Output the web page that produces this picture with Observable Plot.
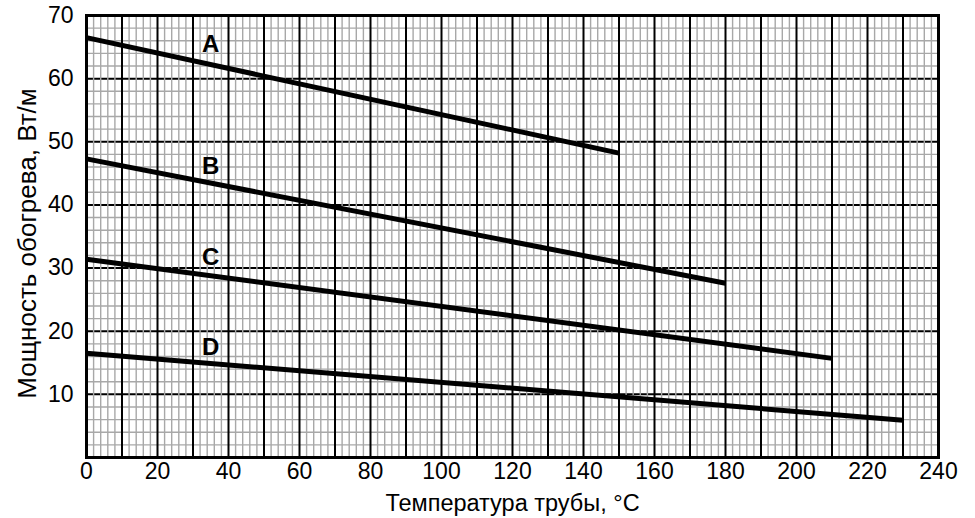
<!DOCTYPE html>
<html>
<head>
<meta charset="utf-8">
<script src="https://cdn.jsdelivr.net/npm/d3@7"></script>
<script src="https://cdn.jsdelivr.net/npm/@observablehq/plot@0.6"></script>
<style>
  html, body { margin: 0; padding: 0; background: #fff; }
  #chart svg { display: block; font-family: "Liberation Sans", Arial, sans-serif; }
</style>
</head>
<body>
<div id="chart"></div>
<script>
// Series data (temperature, °C → heating power, W/m)
const series = ["A", "B", "C", "D"];
const startTemp = [0, 0, 0, 0];
const endTemp = [150, 180, 210, 230];
const startPower = [66.5, 47.3, 31.4, 16.5];
const endPower = [48.2, 27.6, 15.7, 5.9];

// Series label positions
const labelTemp = [35, 35, 35, 35];
const labelPower = [65.4, 46.1, 31.7, 17.4];

// Axis ticks
const xTicks = [0, 20, 40, 60, 80, 100, 120, 140, 160, 180, 200, 220, 240];
const yTicks = [10, 20, 30, 40, 50, 60, 70];
const xMajorGrid = [10, 20, 30, 40, 50, 60, 70, 80, 90, 100, 110, 120, 130, 140, 150, 160, 170, 180, 190, 200, 210, 220, 230];
const yMajorGrid = [10, 20, 30, 40, 50, 60];
const xMinorGrid = d3.range(0, 241, 2).filter(v => v % 10 !== 0);
const yMinorGrid = d3.range(0, 71, 2).filter(v => v % 10 !== 0);

const xLabel = "Температура трубы, °C";
const yLabel = "Мощность обогрева, Вт/м";

const lineData = series.flatMap((s, i) => [
  {s, t: startTemp[i], p: startPower[i]},
  {s, t: endTemp[i], p: endPower[i]}
]);
const labelData = series.map((s, i) => ({s, t: labelTemp[i], p: labelPower[i]}));

const chart = Plot.plot({
  width: 975,
  height: 518,
  marginLeft: 86,
  marginRight: 37,
  marginTop: 15,
  marginBottom: 61,
  style: {fontFamily: "'Liberation Sans', Arial, sans-serif", color: "#000", background: "#fff"},
  x: {domain: [0, 240]},
  y: {domain: [0, 70]},
  marks: [
    Plot.ruleY(yMinorGrid, {stroke: "#a8a8a8", strokeWidth: 1.4}),
    Plot.ruleY(yMajorGrid, {stroke: "#000", strokeWidth: 2}),
    Plot.ruleX(xMinorGrid, {stroke: "#a8a8a8", strokeWidth: 1.4}),
    Plot.ruleX(xMajorGrid, {stroke: "#000", strokeWidth: 2}),
    Plot.frame({stroke: "#000", strokeWidth: 3}),
    Plot.line(lineData, {x: "t", y: "p", z: "s", stroke: "#000", strokeWidth: 5, strokeLinecap: "butt"}),
    Plot.text(labelData, {x: "t", y: "p", text: "s", fontWeight: "bold", fontSize: 24, fill: "#000"}),
    Plot.axisX(xTicks, {tickSize: 0, tickPadding: 5, fontSize: 23, label: null}),
    Plot.axisY(yTicks, {tickSize: 0, tickPadding: 13, fontSize: 23, label: null}),
    Plot.text([xLabel], {frameAnchor: "bottom", lineAnchor: "middle", textAnchor: "middle", dy: 46, fontSize: 23.5, fill: "#000"}),
    Plot.text([yLabel], {frameAnchor: "left", lineAnchor: "middle", textAnchor: "middle", dx: -59, dy: 7, rotate: -90, fontSize: 26, fill: "#000"})
  ]
});
document.getElementById("chart").appendChild(chart);
</script>
</body>
</html>
